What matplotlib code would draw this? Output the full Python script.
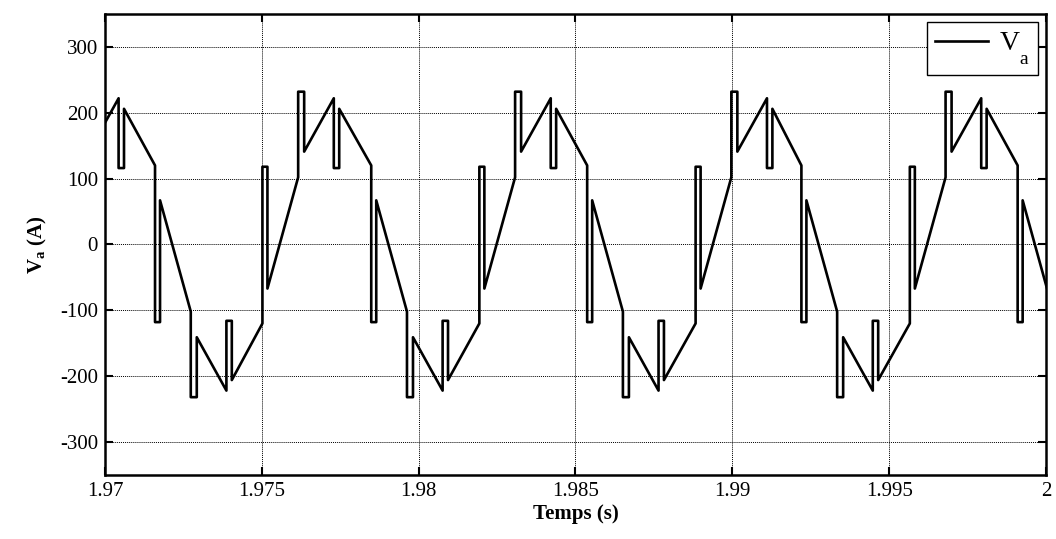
import numpy as np
import matplotlib
matplotlib.use("Agg")
import matplotlib.pyplot as plt

plt.rcParams["font.family"] = ["Liberation Serif", "DejaVu Serif"]
plt.rcParams["mathtext.fontset"] = "custom"
plt.rcParams["mathtext.rm"] = "Liberation Serif"
plt.rcParams["mathtext.bf"] = "Liberation Serif:bold"
plt.rcParams["mathtext.it"] = "Liberation Serif:italic"
plt.rcParams["axes.unicode_minus"] = False

# Start of each half cycle (s) and its polarity (+1: falling edge from +120 V)
half_cycle_starts = [1.964712, 1.968159, 1.971596, 1.975020, 1.978489, 1.981936,
                     1.985373, 1.988830, 1.992203, 1.995660, 1.999097]
half_cycle_signs = [1, -1, 1, -1, 1, -1, 1, -1, 1, -1, 1]

# Switching instants inside a half cycle, measured from its start (s)
switch_offsets = [0.0, 0.0001596, 0.0011394, 0.0013309, 0.0022755, 0.0024479]

# Voltage levels visited within a half cycle (for positive polarity)
edge_before = 120      # level reached at the end of the previous ramp
pulse_1 = -118
after_pulse_1 = 67
ramp_1_end = -102
pulse_2 = -232
after_pulse_2 = -141
ramp_2_end = -222
pulse_3 = -116
after_pulse_3 = -206

x_ticks = [1.97, 1.975, 1.98, 1.985, 1.99, 1.995, 2.0]
x_tick_labels = ["1.97", "1.975", "1.98", "1.985", "1.99", "1.995", "2"]
y_ticks = [-300, -200, -100, 0, 100, 200, 300]

# Build the piecewise-linear waveform from the switching instants
t_pts, v_pts = [], []
for start, s in zip(half_cycle_starts, half_cycle_signs):
    o = switch_offsets
    seq = [
        (o[0], s * edge_before), (o[0], s * pulse_1),
        (o[1], s * pulse_1), (o[1], s * after_pulse_1),
        (o[2], s * ramp_1_end), (o[2], s * pulse_2),
        (o[3], s * pulse_2), (o[3], s * after_pulse_2),
        (o[4], s * ramp_2_end), (o[4], s * pulse_3),
        (o[5], s * pulse_3), (o[5], s * after_pulse_3),
    ]
    for dt, v in seq:
        t_pts.append(start + dt)
        v_pts.append(v)
# closing ramp after the last half cycle
last_start = half_cycle_starts[-1]
t_pts.append(last_start + switch_offsets[2])
v_pts.append(half_cycle_signs[-1] * ramp_1_end)

fig = plt.figure(figsize=(10.56, 5.39), dpi=100)
ax = fig.add_axes([0.0994, 0.119, 0.8911, 0.855])

ax.plot(t_pts, v_pts, color="black", linewidth=1.9,
        label=r"V$\underset{\mathregular{a}}{\,}$")

ax.set_xlim(1.97, 2.0)
ax.set_ylim(-350, 350)
ax.set_xticks(x_ticks)
ax.set_xticklabels(x_tick_labels)
ax.set_yticks(y_ticks)

ax.grid(True, color="black", linestyle=(0, (1, 1)), linewidth=0.7)
ax.tick_params(direction="in", top=True, right=True, length=6, width=1.5,
               labelsize=15, pad=5)
for sp in ax.spines.values():
    sp.set_linewidth(1.8)

ax.set_xlabel("Temps (s)", fontsize=15, fontweight="bold", labelpad=2)
ax.set_ylabel(r"V$_{\mathbf{a}}$ (A)", fontsize=15, fontweight="bold", labelpad=8)

leg = ax.legend(loc="upper right", fontsize=20, frameon=True, fancybox=False,
                edgecolor="black", framealpha=1, handlelength=1.9,
                borderaxespad=0.3, borderpad=0.3, handletextpad=0.4)
leg.get_frame().set_linewidth(1.0)

fig.savefig("out.png", dpi=100)
